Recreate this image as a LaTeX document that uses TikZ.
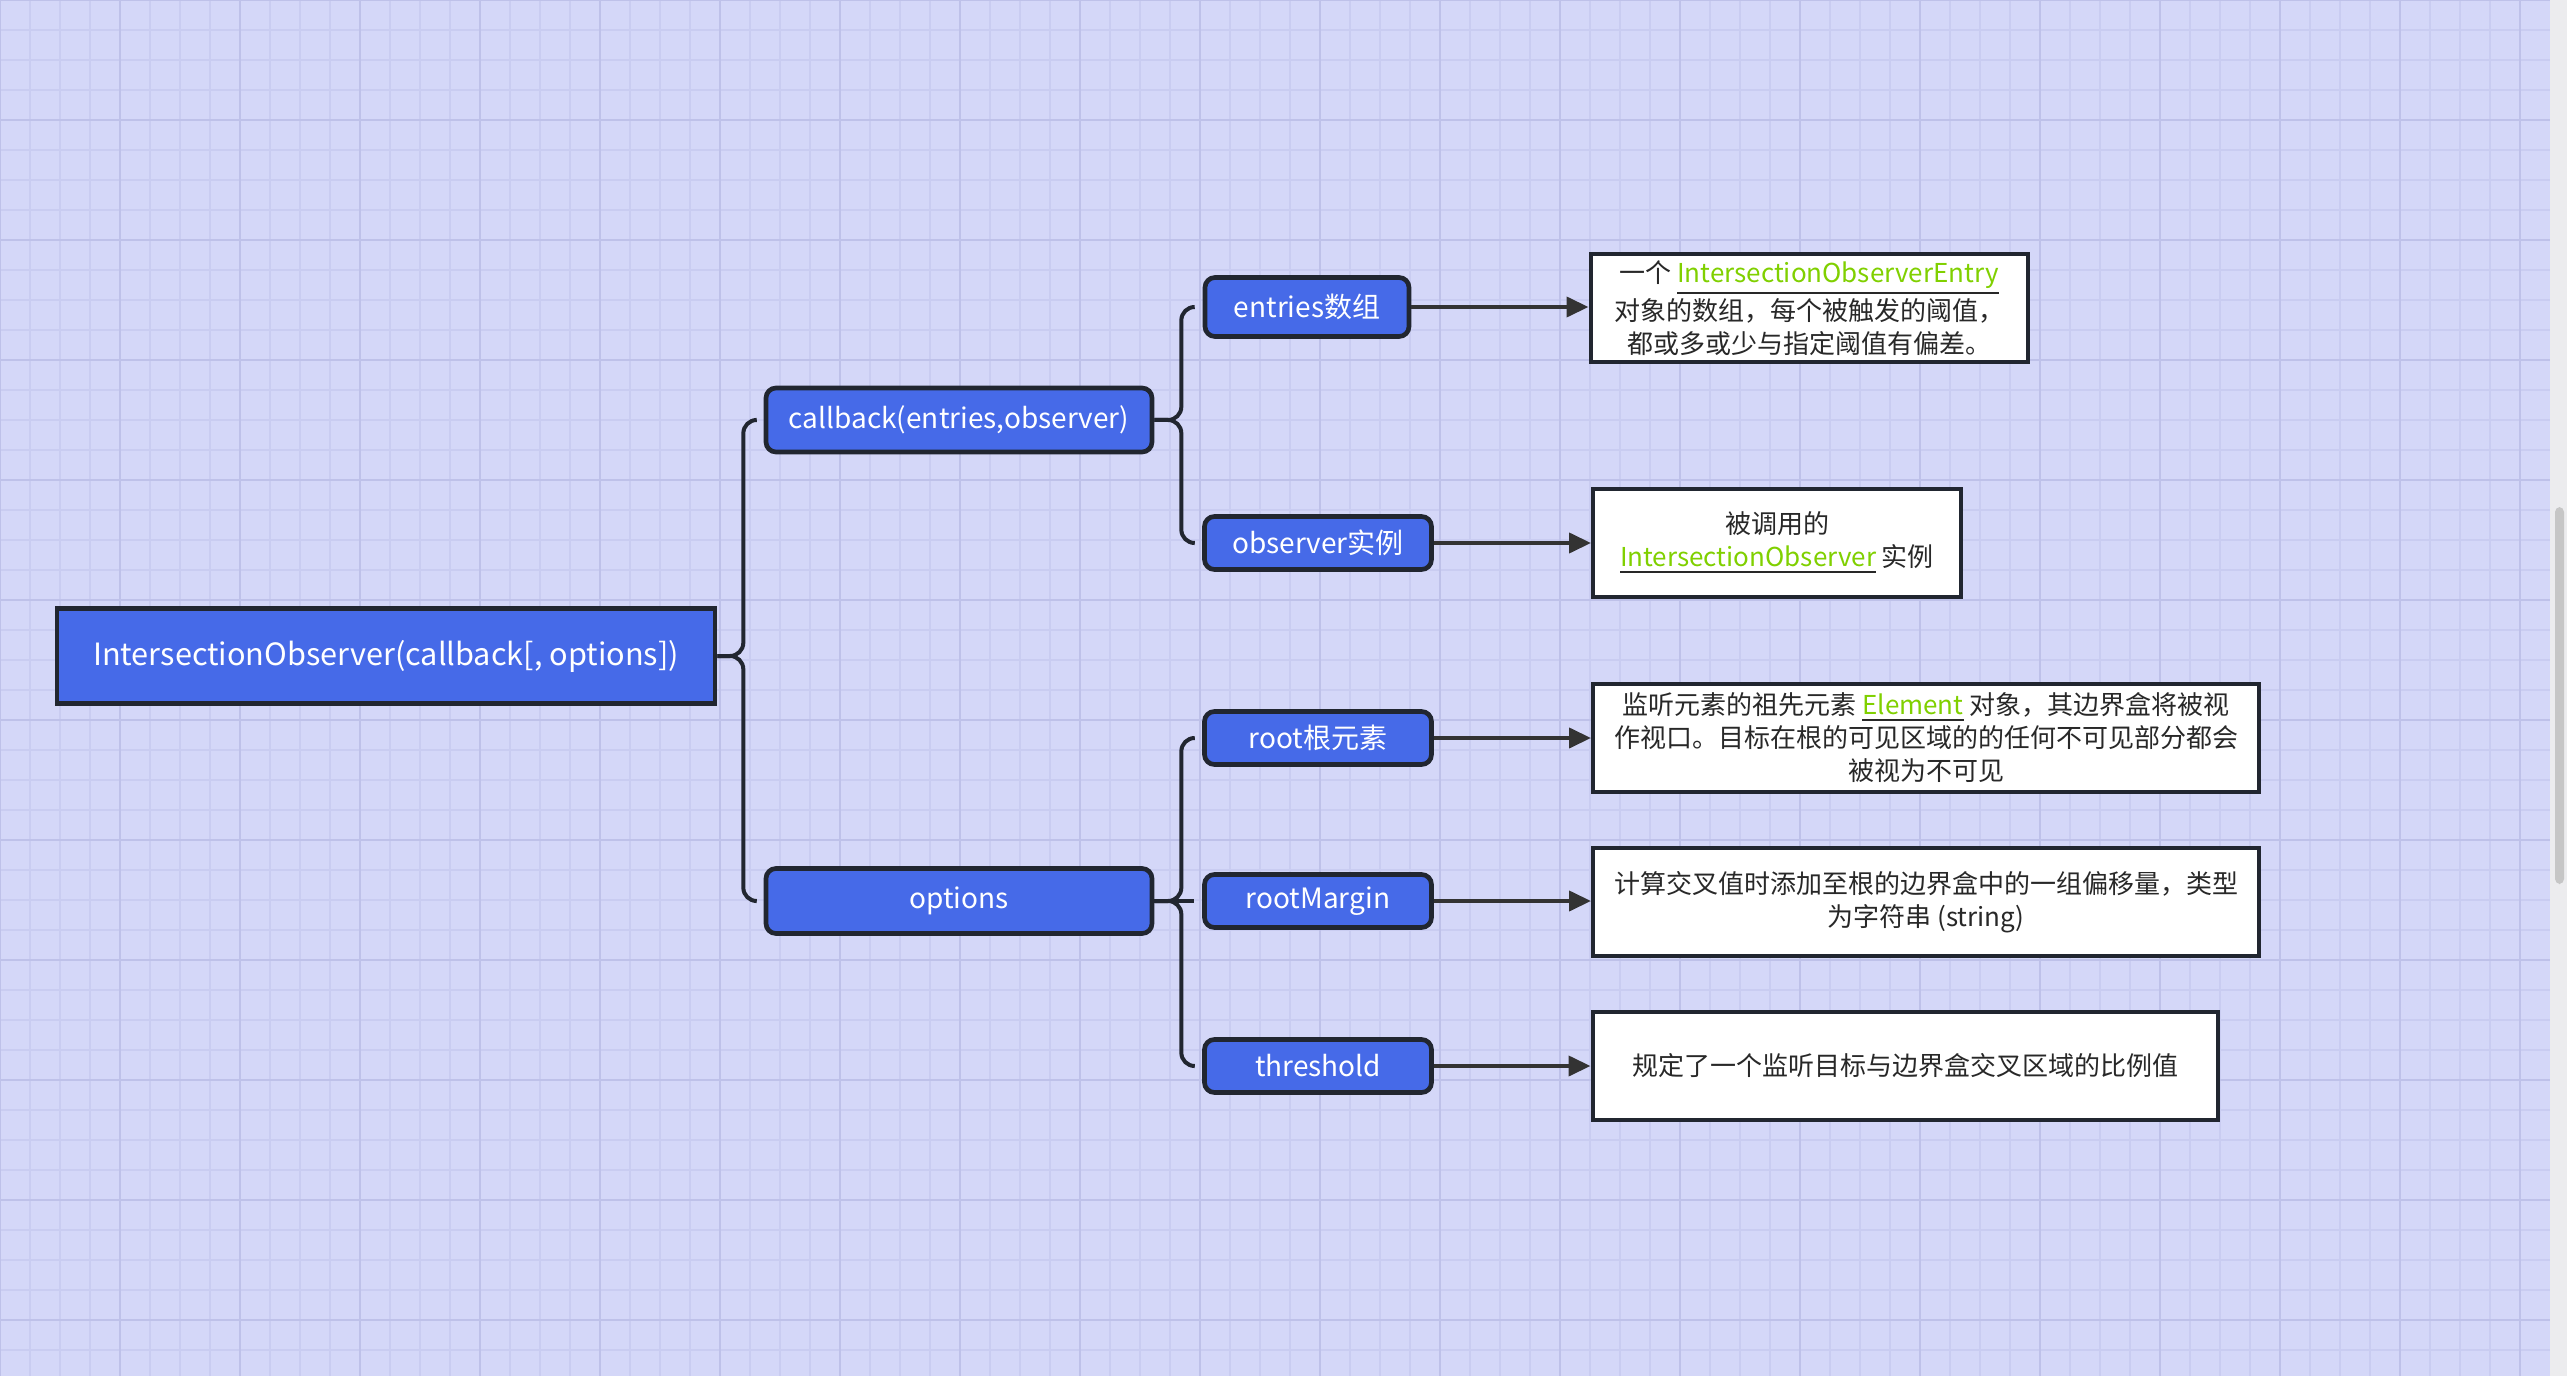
\documentclass[tikz,border=0pt]{standalone}
\usepackage{fontspec}
\setmainfont{Noto Sans CJK SC}
\usepackage{tikz}
\usetikzlibrary{arrows.meta}
\usetikzlibrary{positioning}
\definecolor{gridbg}{RGB}{212,215,248}
\definecolor{gridminor}{RGB}{201,204,241}
\definecolor{gridmajor}{RGB}{190,193,233}
\definecolor{sidegray}{RGB}{236,236,238}
\definecolor{scrollgray}{RGB}{198,198,198}
\definecolor{keyblue}{RGB}{70,106,232}
\definecolor{keyborder}{RGB}{33,38,48}
\definecolor{notetext}{RGB}{40,40,40}
\definecolor{linkgreen}{RGB}{128,208,0}
\definecolor{edgegray}{RGB}{51,51,51}
\tikzstyle{rootstyle}=[draw=keyborder, fill=keyblue, line width=1.4pt, text=white, inner sep=0pt, minimum width=197.4pt, minimum height=28.5pt, font=\fontsize{9.2pt}{11pt}\selectfont]
\tikzstyle{keystyle}=[draw=keyborder, fill=keyblue, line width=1.4pt, rounded corners=3pt, text=white, inner sep=0pt, font=\fontsize{8.4pt}{10pt}\selectfont]
\tikzstyle{notestyle}=[draw=keyborder, fill=white, line width=1.2pt, text=notetext, align=center, inner sep=0pt, minimum height=32.4pt, font=\fontsize{7.8pt}{9.9pt}\selectfont]
\tikzstyle{branchstyle}=[draw=keyborder, line width=1.2pt, rounded corners=4pt]
\tikzstyle{edgestyle}=[draw=edgegray, line width=1.2pt, -{Triangle[length=6.6pt, width=6pt]}]
\newcommand{\lnk}[1]{\underline{\textcolor{linkgreen}{#1}}}
\newcommand{\keynode}[5]{\node [keystyle, minimum width=#2, minimum height=#3] (#1) at (#4) {#5};}

\begin{document}
\begin{tikzpicture}[x=0.3pt, y=-0.3pt]
\useasboundingbox (0,0) rectangle (2567,1376);
% grid paper
\fill [gridbg] (0,0) rectangle (2550,1376);
\fill [sidegray] (2550,0) rectangle (2567,1376);
\foreach \gx in {0,30,...,2549} \draw [gridminor, line width=0.6pt] (\gx,0) -- (\gx,1376);
\foreach \gy in {0,30,...,1376} \draw [gridminor, line width=0.6pt] (0,\gy) -- (2550,\gy);
\foreach \gx in {0,120,...,2549} \draw [gridmajor, line width=0.8pt] (\gx,0) -- (\gx,1376);
\foreach \gy in {0,120,...,1376} \draw [gridmajor, line width=0.8pt] (0,\gy) -- (2550,\gy);
\fill [scrollgray, rounded corners=1.5pt] (2555,507) rectangle (2564,884);

% tree
\node [rootstyle] (observer) at (386,656) {IntersectionObserver(callback[, options])};
\keynode{callback}{115.8pt}{19.2pt}{959,420}{callback(entries,observer)}
\keynode{options}{115.8pt}{19.5pt}{959,901}{options}
\keynode{entries}{61.2pt}{17.7pt}{1307,307}{entries数组}
\keynode{instance}{68.1pt}{15.9pt}{1318,543}{observer实例}
\keynode{rootel}{68.1pt}{15.9pt}{1318,738}{root根元素}
\keynode{margin}{68.1pt}{15.9pt}{1318,901}{rootMargin}
\keynode{threshold}{68.1pt}{15.9pt}{1318,1066}{threshold}

% notes
\node [notestyle, minimum width=131.1pt] (entriesnote) at (1809,308) {一个 \lnk{IntersectionObserverEntry}\\对象的数组，每个被触发的阈值，\\都或多或少与指定阈值有偏差。};
\node [notestyle, minimum width=110.4pt] (instancenote) at (1777,543) {被调用的\\\lnk{IntersectionObserver} 实例};
\node [notestyle, minimum width=199.8pt] (rootnote) at (1926,738) {监听元素的祖先元素 \lnk{Element} 对象，其边界盒将被视\\作视口。目标在根的可见区域的的任何不可见部分都会\\被视为不可见};
\node [notestyle, minimum width=199.8pt] (marginnote) at (1926,902) {计算交叉值时添加至根的边界盒中的一组偏移量，类型\\为字符串 (string)};
\node [notestyle, minimum width=187.5pt] (thresholdnote) at (1905,1066) {规定了一个监听目标与边界盒交叉区域的比例值};

% brackets
\draw [branchstyle] (observer.east) -- ++(26,0) |- ([xshift=-2.4pt]callback.west);
\draw [branchstyle] (observer.east) -- ++(26,0) |- ([xshift=-2.4pt]options.west);
\draw [branchstyle] (callback.east) -- ++(27,0) |- ([xshift=-2.4pt]entries.west);
\draw [branchstyle] (callback.east) -- ++(27,0) |- ([xshift=-2.4pt]instance.west);
\draw [branchstyle] (options.east) -- ++(27,0) |- ([xshift=-2.4pt]rootel.west);
\draw [branchstyle] (options.east) -- ([xshift=-2.4pt]margin.west);
\draw [branchstyle] (options.east) -- ++(27,0) |- ([xshift=-2.4pt]threshold.west);

% arrows
\draw [edgestyle] (entries.east) -- (entries.east -| entriesnote.west);
\draw [edgestyle] (instance.east) -- (instance.east -| instancenote.west);
\draw [edgestyle] (rootel.east) -- (rootel.east -| rootnote.west);
\draw [edgestyle] (margin.east) -- (margin.east -| marginnote.west);
\draw [edgestyle] (threshold.east) -- (threshold.east -| thresholdnote.west);
\end{tikzpicture}
\end{document}
